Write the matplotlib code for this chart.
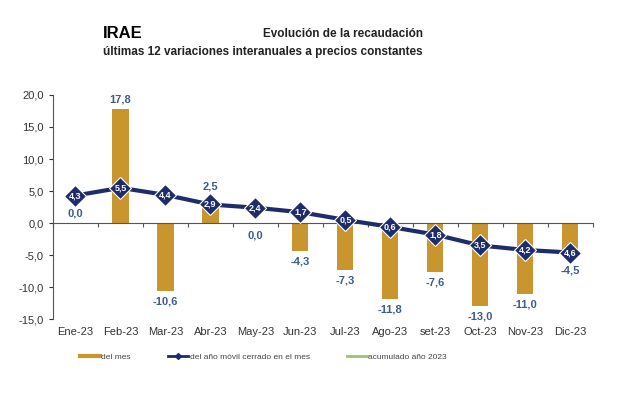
import matplotlib.pyplot as plt
import matplotlib.transforms as mtransforms
from matplotlib.lines import Line2D
import numpy as np

plt.rcParams['font.family'] = ['Liberation Sans', 'DejaVu Sans']

months = ['Ene-23', 'Feb-23', 'Mar-23', 'Abr-23', 'May-23', 'Jun-23',
          'Jul-23', 'Ago-23', 'set-23', 'Oct-23', 'Nov-23', 'Dic-23']
del_mes = [0.0, 17.8, -10.6, 2.5, 0.0, -4.3, -7.3, -11.8, -7.6, -13.0, -11.0, -4.5]
movil = [4.3, 5.5, 4.4, 2.9, 2.4, 1.7, 0.5, -0.6, -1.8, -3.5, -4.2, -4.6]
acumulado = []

bar_col = '#C8952E'
line_col = '#1E2C6B'
lab_col = '#3D5C88'

fig = plt.figure(figsize=(6.2, 3.94), dpi=100)
ax = fig.add_axes([0.0855, 0.19, 0.8705, 0.569])
x = np.arange(len(months))

ax.bar(x, del_mes, width=0.36, color=bar_col, label='del mes', zorder=2)
ax.plot(x, movil, color=line_col, lw=3, marker='D', ms=11, mfc=line_col,
        mec='white', mew=0.8, label='del año móvil cerrado en el mes', zorder=3)
ax.plot(acumulado, acumulado, color='#9BC46B', lw=2, label='acumulado año 2023')

# bar labels, moved clear of the line markers
for xi, v, m in zip(x, del_mes, movil):
    txt = f'{v:.1f}'.replace('.', ',')
    if v >= 0:
        if m > v + 3.5 or m < v - 1.5:
            pos, off, va = v, 3, 'bottom'
        elif abs(m - v) < 1.5:
            pos, off, va = max(v, m), 9, 'bottom'
        else:
            pos, off, va = 0, -5, 'top'
    else:
        if abs(m - v) < 1.5:
            pos, off, va = min(v, m), -9, 'top'
        else:
            pos, off, va = v, -4, 'top'
    ax.annotate(txt, (xi, pos), xytext=(0, off), textcoords='offset points',
                ha='center', va=va, fontsize=8, fontweight='bold', color=lab_col)

for xi, v in zip(x, movil):
    ax.text(xi, v, f'{abs(v):.1f}'.replace('.', ','), ha='center', va='center',
            fontsize=6.5, fontweight='bold', color='white', zorder=4)

ax.set_xlim(-0.5, 11.5)
ax.set_ylim(-15, 20)
ax.set_yticks(np.arange(-15, 21, 5))
ax.set_yticklabels([f'{t:.1f}'.replace('.', ',') for t in np.arange(-15, 21, 5)])
ax.tick_params(axis='y', labelsize=8, colors='#333333', length=3, width=0.8)
ax.spines['left'].set_color('#555555')
ax.spines['top'].set_visible(False)
ax.spines['right'].set_visible(False)
ax.spines['bottom'].set_position(('data', 0))
ax.spines['bottom'].set_color('#555555')
ax.set_xticks(np.arange(-0.5, 12, 1))
ax.set_xticklabels([])
ax.tick_params(axis='x', length=3, width=0.8, colors='#555555')

trans = mtransforms.blended_transform_factory(ax.transData, ax.transAxes)
for xi, m in zip(x, months):
    ax.text(xi, -0.035, m, transform=trans, ha='center', va='top',
            fontsize=8, color='#333333')

fig.text(0.166, 0.916, 'IRAE', fontsize=12, fontweight='bold', ha='left', va='center')
fig.text(0.682, 0.913, 'Evolución de la recaudación', fontsize=8.5, fontweight='bold',
         ha='right', va='center', color='#222222')
fig.text(0.166, 0.868, 'últimas 12 variaciones interanuales a precios constantes',
         fontsize=8.5, fontweight='bold', ha='left', va='center', color='#222222')

handles = [Line2D([], [], color=bar_col, lw=3),
           Line2D([], [], color=line_col, lw=2, marker='D', ms=3),
           Line2D([], [], color='#9BC46B', lw=2)]
fig.legend(handles, ['del mes', 'del año móvil cerrado en el mes', 'acumulado año 2023'],
           loc='center', bbox_to_anchor=(0.425, 0.094), ncol=3, frameon=False,
           fontsize=6, handlelength=2.4, columnspacing=4.5, handletextpad=0.15,
           labelcolor='#444444')

fig.savefig('out.png', dpi=100)
